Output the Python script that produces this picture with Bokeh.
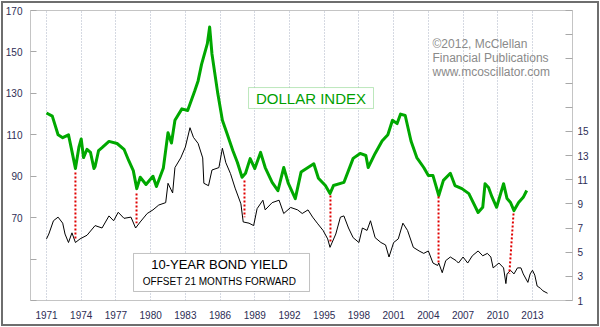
from bokeh.plotting import figure
from bokeh.models import Range1d, LinearAxis, FixedTicker, Label, BoxAnnotation
from bokeh.embed import file_html
from bokeh.resources import INLINE

# ---------------- data ----------------
dollar_year = [1971.0, 1971.5, 1972.0, 1972.4, 1972.9, 1973.2, 1973.5, 1973.8, 1974.0, 1974.2,
               1974.5, 1974.8, 1975.1, 1975.2, 1975.5, 1975.8, 1976.4, 1977.1, 1977.7, 1978.1,
               1978.5, 1978.8, 1979.1, 1979.6, 1980.2, 1980.5, 1981.1, 1981.5, 1981.8, 1982.1,
               1982.7, 1983.2, 1983.8, 1984.1, 1984.4, 1984.9, 1985.1, 1985.3, 1985.8, 1986.2,
               1986.6, 1987.1, 1987.5, 1987.9, 1988.2, 1988.6, 1989.0, 1989.5, 1989.9, 1990.5,
               1991.0, 1991.5, 1991.9, 1992.5, 1993.0, 1993.6, 1994.1, 1994.5, 1995.1, 1995.5,
               1995.8, 1996.7, 1997.5, 1998.1, 1998.6, 1998.8, 1999.4, 2000.0, 2000.5, 2000.9,
               2001.3, 2001.6, 2002.0, 2002.5, 2003.0, 2003.6, 2004.0, 2004.4, 2004.9, 2005.3,
               2005.9, 2006.3, 2006.9, 2007.5, 2008.3, 2008.7, 2008.9, 2009.2, 2009.5, 2009.9,
               2010.5, 2010.8, 2011.1, 2011.4, 2011.8, 2012.2, 2012.5]
dollar_value = [120.5, 119.0, 110.0, 108.6, 110.0, 102.0, 93.7, 104.0, 108.0, 99.0,
                103.0, 101.5, 93.7, 94.7, 102.4, 103.8, 106.8, 105.8, 103.0, 97.6,
                92.7, 84.0, 89.5, 86.0, 90.0, 85.0, 94.0, 111.0, 106.0, 117.0,
                122.5, 121.7, 131.0, 136.0, 144.0, 154.0, 162.0, 149.0, 130.0, 117.0,
                110.6, 102.4, 96.6, 89.5, 91.4, 98.5, 93.7, 101.5, 94.2, 87.0,
                83.0, 94.2, 86.5, 79.2, 92.0, 94.2, 96.0, 89.0, 85.5, 81.6,
                85.5, 87.0, 98.6, 101.0, 100.0, 94.2, 101.0, 107.0, 110.0, 117.0,
                115.4, 120.0, 119.3, 107.0, 99.0, 94.2, 90.3, 90.3, 80.7, 88.0,
                91.4, 85.5, 84.0, 81.6, 72.5, 75.0, 86.4, 84.6, 80.0, 75.0,
                86.4, 79.2, 77.3, 73.4, 77.3, 79.8, 83.1]

yield_year = [1971.0, 1971.2, 1971.6, 1972.0, 1972.4, 1972.6, 1972.9, 1973.2, 1973.5, 1973.9,
              1974.5, 1975.2, 1975.8, 1976.4, 1976.8, 1977.2, 1977.7, 1978.3, 1978.7, 1979.1,
              1979.7, 1980.2, 1980.7, 1981.3, 1981.5, 1981.9, 1982.1, 1982.6, 1983.0, 1983.4,
              1983.7, 1984.1, 1984.5, 1984.6, 1985.0, 1985.3, 1985.9, 1986.2, 1986.5, 1986.9,
              1987.3, 1987.8, 1988.0, 1988.5, 1988.9, 1989.2, 1989.7, 1989.9, 1990.5, 1991.1,
              1991.5, 1992.1, 1992.7, 1993.1, 1993.6, 1994.0, 1994.4, 1994.9, 1995.3, 1995.5,
              1996.0, 1996.4, 1996.7, 1997.1, 1997.5, 1998.0, 1998.3, 1998.7, 1999.0, 1999.4,
              1999.9, 2000.3, 2000.6, 2001.0, 2001.4, 2001.8, 2002.2, 2002.7, 2003.2, 2003.6,
              2004.0, 2004.4, 2004.8, 2004.9, 2005.2, 2005.5, 2005.9, 2006.4, 2006.6, 2007.0,
              2007.4, 2007.8, 2008.3, 2008.7, 2009.1, 2009.4, 2009.6, 2010.1, 2010.5, 2010.7,
              2010.8, 2011.1, 2011.4, 2011.7, 2012.0, 2012.2, 2012.6, 2012.8, 2013.0, 2013.2,
              2013.4, 2013.7, 2013.9, 2014.3]
yield_value = [6.1, 6.5, 7.6, 7.9, 7.4, 6.5, 5.8, 6.6, 5.8, 6.1,
               6.4, 7.2, 7.0, 8.0, 7.6, 8.3, 7.8, 7.9, 7.0, 7.5,
               8.2, 8.5, 8.9, 9.1, 10.7, 9.9, 12.0, 12.8, 13.7, 15.3,
               14.5, 14.0, 12.8, 10.7, 10.5, 11.8, 12.0, 13.6, 12.4, 11.5,
               10.3, 9.0, 7.5, 7.4, 7.2, 8.6, 9.3, 8.5, 9.1, 9.3,
               8.2, 8.7, 8.5, 8.2, 8.5, 7.9, 7.4, 6.8, 6.1, 5.4,
               6.5, 7.9, 8.0, 7.0, 6.2, 5.8, 7.0, 6.8, 7.6, 6.2,
               5.8, 5.6, 4.6, 5.8, 6.1, 7.4, 6.8, 5.4, 5.1, 4.9,
               5.1, 4.1, 3.9, 4.1, 3.3, 4.3, 4.6, 4.3, 4.1, 4.6,
               4.1, 4.7, 5.1, 4.7, 4.9, 4.6, 3.7, 4.1, 3.7, 2.4,
               3.2, 3.5, 3.2, 3.7, 3.7, 3.2, 2.5, 3.2, 3.5, 3.1,
               2.2, 2.0, 1.8, 1.6]

trough_dollar_year = [1973.5, 1978.78, 1988.11, 1995.54, 2004.88, 2011.36]
trough_dollar_value = [91.8, 81.6, 87.9, 80.7, 80.2, 72.0]
trough_yield_year = [1973.5, 1978.78, 1988.11, 1995.54, 2004.88, 2011.0]
trough_yield_value = [6.0, 7.4, 7.9, 5.8, 4.1, 3.2]

year_ticks = list(range(1971, 2014, 3))
dollar_ticks = [30, 50, 70, 90, 110, 130, 150, 170]
dollar_labels = {30: "", 50: "", 70: "70", 90: "90", 110: "110", 130: "130", 150: "150", 170: "170"}
yield_ticks = list(range(1, 26, 2))
yield_labels = {t: (str(t) if t <= 15 else "") for t in yield_ticks}

# ---------------- figure ----------------
FONT = "Liberation Sans"
LABEL_COLOR = "#2d2d55"
X0, X1 = 1969.617, 2016.457
D0, D1 = 30, 170
Y0, Y1 = 1, 25

p = figure(width=600, height=327, output_backend="svg", toolbar_location=None,
           x_range=Range1d(X0, X1), y_range=Range1d(D0, D1),
           min_border_left=30, min_border_right=28, min_border_top=10, min_border_bottom=27,
           x_axis_location="below", y_axis_location="left")
p.extra_y_ranges = {"yld": Range1d(Y0, Y1)}
p.border_fill_color = None
p.background_fill_color = "white"
p.outline_line_color = "#c4c4c4"
p.styles = {"background-color": "white",
            "box-shadow": "inset 0 0 0 1px white, inset 0 0 0 3px #6e6e6e"}

# x axis
xa = p.xaxis[0]
xa.ticker = FixedTicker(ticks=year_ticks)
xa.major_label_overrides = {t: str(t) for t in year_ticks}
xa.major_tick_line_color = None
xa.minor_tick_line_color = None
xa.axis_line_color = None
xa.major_label_standoff = 4
xa.major_label_text_font = FONT
xa.major_label_text_font_size = "10px"
xa.major_label_text_color = LABEL_COLOR

# left axis
ya = p.yaxis[0]
ya.ticker = FixedTicker(ticks=dollar_ticks)
ya.major_label_overrides = dollar_labels
ya.major_tick_in = 6
ya.major_tick_out = 0
ya.major_tick_line_color = "#a8a8a8"
ya.minor_tick_line_color = None
ya.axis_line_color = None
ya.major_label_standoff = 8
ya.major_label_text_font = FONT
ya.major_label_text_font_size = "10px"
ya.major_label_text_color = LABEL_COLOR

# right axis
ra = LinearAxis(y_range_name="yld", ticker=FixedTicker(ticks=yield_ticks))
ra.major_label_overrides = yield_labels
ra.major_tick_in = 7
ra.major_tick_out = 0
ra.major_tick_line_color = "#a8a8a8"
ra.minor_tick_line_color = None
ra.axis_line_color = None
ra.major_label_standoff = 5
ra.major_label_text_font = FONT
ra.major_label_text_font_size = "10px"
ra.major_label_text_color = LABEL_COLOR
p.add_layout(ra, "right")

# grid
p.ygrid.grid_line_color = None
p.xgrid.ticker = FixedTicker(ticks=year_ticks)
p.xgrid.grid_line_color = "#aab2c4"
p.xgrid.grid_line_dash = "1 2"
p.xgrid.grid_line_width = 1

# series
p.line(yield_year, yield_value, y_range_name="yld", line_color="black", line_width=1)
p.line(dollar_year, dollar_value, line_color="#00a800", line_width=3, line_join="round")

# red dotted connectors (yield mapped onto the left scale)
def yld_to_dollar(v):
    return D0 + (v - Y0) * (D1 - D0) / (Y1 - Y0)

p.segment(x0=trough_dollar_year, y0=trough_dollar_value,
          x1=trough_yield_year, y1=[yld_to_dollar(v) for v in trough_yield_value],
          line_color="#e00000", line_width=2, line_dash="2 2")

# DOLLAR INDEX box
p.add_layout(BoxAnnotation(left=1988.46, right=1999.26, bottom=122.7, top=132.8,
                           fill_color="white", fill_alpha=1, line_color="#22b022", line_width=1))
p.add_layout(Label(x=1993.86, y=127.6, text="DOLLAR INDEX", text_font=FONT,
                   text_font_size="15px", text_color="#00a000",
                   text_align="center", text_baseline="middle"))

# bond yield box
p.add_layout(BoxAnnotation(left=1978.52, right=1993.73, bottom=34.35, top=52.7,
                           fill_color="white", fill_alpha=1, line_color="#333333", line_width=1))
p.add_layout(Label(x=1985.95, y=47.4, text="10-YEAR BOND YIELD", text_font=FONT,
                   text_font_size="13px", text_color="black",
                   text_align="center", text_baseline="middle"))
p.add_layout(Label(x=1985.95, y=39.2, text="OFFSET 21 MONTHS FORWARD", text_font=FONT,
                   text_font_size="10px", text_color="black",
                   text_align="center", text_baseline="middle"))

# copyright
for txt, yy in [("\u00a92012, McClellan", 153.6), ("Financial Publications", 146.9),
                ("www.mcoscillator.com", 140.1)]:
    p.add_layout(Label(x=2004.36, y=yy, text=txt, text_font=FONT, text_font_size="12px",
                       text_color="#8a8a8a", text_align="left", text_baseline="middle"))

open("out.html", "w").write(file_html(p, INLINE))
